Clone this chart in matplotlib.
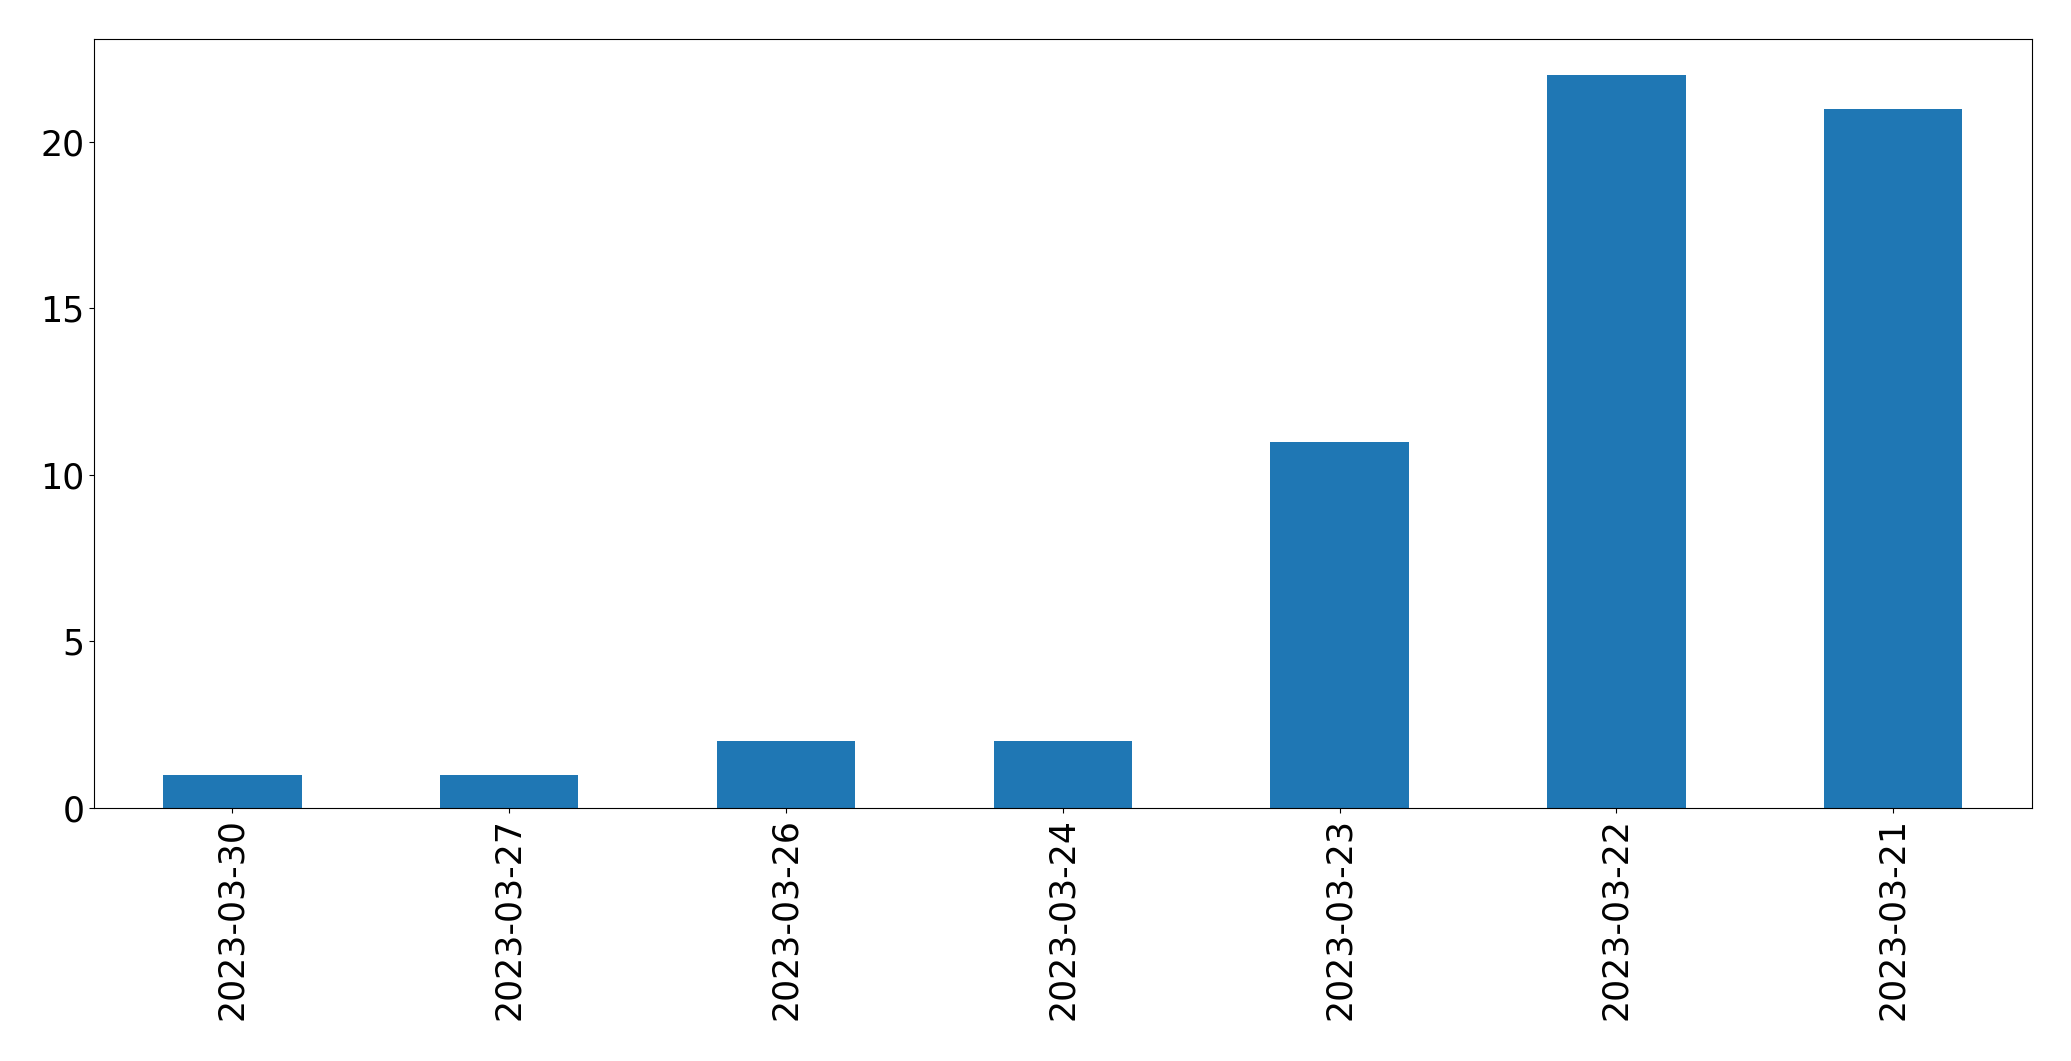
import matplotlib
matplotlib.use('Agg')
import matplotlib.pyplot as plt
import numpy as np

# Counts per date, in the order shown
dates = ['2023-03-30', '2023-03-27', '2023-03-26', '2023-03-24',
         '2023-03-23', '2023-03-22', '2023-03-21']
counts = [1, 1, 2, 2, 11, 22, 21]

fig = plt.figure(figsize=(20.71, 10.61), dpi=100)
ax = fig.add_axes([0.0454, 0.2385, 0.9356, 0.7250])

x = np.arange(len(dates))
ax.bar(x, counts, width=0.5, color='#1f77b4')
ax.set_xlim(-0.5, len(dates) - 0.5)
ax.set_ylim(0, 23.1)
ax.set_xticks(x)
ax.set_xticklabels(dates, rotation=90)
ax.set_yticks([0, 5, 10, 15, 20])
ax.tick_params(labelsize=25)

fig.savefig('out.png', dpi=100)
